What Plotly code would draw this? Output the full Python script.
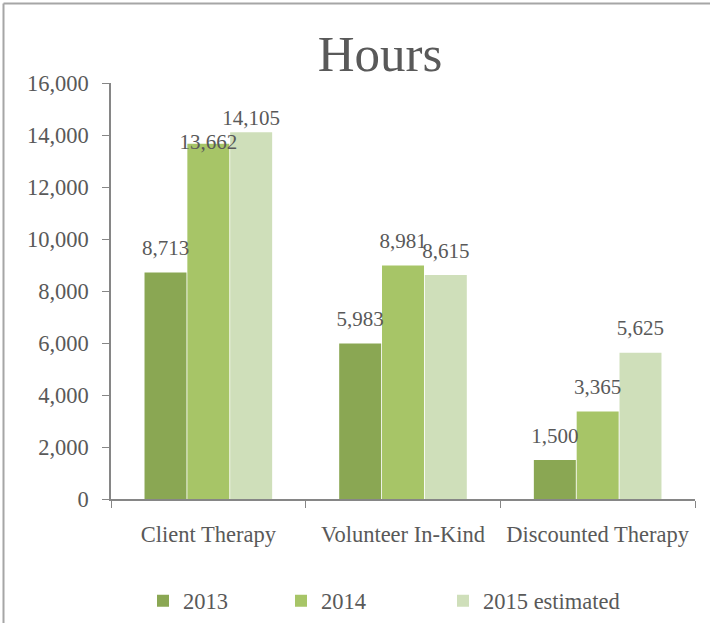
import plotly.graph_objects as go

categories = ["Client Therapy", "Volunteer In-Kind", "Discounted Therapy"]
series_names = ["2013", "2014", "2015 estimated"]
values_2013 = [8713, 5983, 1500]
values_2014 = [13662, 8981, 3365]
values_2015 = [14105, 8615, 5625]
y_tick_vals = [0, 2000, 4000, 6000, 8000, 10000, 12000, 14000, 16000]
y_tick_text = ["0", "2,000", "4,000", "6,000", "8,000", "10,000", "12,000", "14,000", "16,000"]

# label placement style (per series, per point) to mimic the reference's collision avoidance
label_positions = [
    ["top center", "top center", "top center"],
    ["middle center", "top center", "top center"],
    ["top center", "top center", "top center"],
]
label_pads = [
    [18, 18, 18],
    [18, 18, 18],
    [1, 18, 18],
]

colors = ["#8AA753", "#A7C567", "#CFDFBA"]
W, H = 710, 623
L, R, T, B = 111, 15, 83, 124
font_family = "Liberation Serif, Times New Roman, serif"
text_color = "#595959"
axis_color = "#868686"

pw = W - L - R
ph = H - T - B
legend_x = [143, 281, 443]
legend_names = ["legend", "legend2", "legend3"]

fig = go.Figure()
all_vals = [values_2013, values_2014, values_2015]
for i, (name, vals, col) in enumerate(zip(series_names, all_vals, colors)):
    fig.add_trace(go.Bar(
        x=categories, y=vals, name=name,
        marker=dict(color=col, line=dict(width=0)),
        offsetgroup=str(i), legend=legend_names[i],
        hoverinfo="skip",
    ))
for i, (name, vals) in enumerate(zip(series_names, all_vals)):
    fig.add_trace(go.Scatter(
        x=categories, y=vals, mode="markers+text", showlegend=False,
        offsetgroup=str(i),
        marker=dict(size=label_pads[i], opacity=0),
        text=[f"{v:,}" for v in vals], textposition=label_positions[i],
        textfont=dict(family=font_family, size=21, color=text_color),
        cliponaxis=False, hoverinfo="skip",
    ))

bx = (3.5 - L) / pw
by = (H - B - 3.5) / ph

layout_legends = {}
for i, ln in enumerate(legend_names):
    layout_legends[ln] = dict(
        orientation="h", x=(legend_x[i] - L) / pw, xanchor="left",
        y=-(601 - (H - B)) / ph, yanchor="middle",
        font=dict(family=font_family, size=22.5, color=text_color),
        bgcolor="rgba(0,0,0,0)",
    )

fig.update_layout(
    width=W, height=H,
    margin=dict(l=L, r=R, t=T, b=B, autoexpand=False),
    paper_bgcolor="white", plot_bgcolor="white",
    barmode="group", bargap=0.34, bargroupgap=0.02,
    scattermode="group", scattergap=0.34,
    font=dict(family=font_family, size=21, color=text_color),
    title=dict(text="Hours", x=380 / W, xref="container", xanchor="center",
               y=1 - 53 / H, yref="container", yanchor="middle",
               font=dict(family=font_family, size=51, color=text_color)),
    showlegend=True,
    shapes=[
        dict(type="line", xref="paper", yref="paper", x0=bx, x1=bx, y0=-1, y1=by,
             line=dict(color="#A6A6A6", width=2)),
        dict(type="line", xref="paper", yref="paper", x0=bx, x1=1.2, y0=by, y1=by,
             line=dict(color="#A6A6A6", width=2)),
    ],
    **layout_legends,
)
fig.update_xaxes(showline=True, linecolor=axis_color, linewidth=1.5, automargin=False,
                 ticks="outside", tickson="boundaries", ticklen=7, tickcolor=axis_color,
                 tickfont=dict(family=font_family, size=22.5, color=text_color),
                 ticklabelstandoff=14, showgrid=False)
fig.update_yaxes(range=[0, 16000], tickvals=y_tick_vals, ticktext=y_tick_text, automargin=False,
                 showline=True, linecolor=axis_color, linewidth=1.5,
                 ticks="outside", ticklen=7, tickcolor=axis_color,
                 tickfont=dict(family=font_family, size=22.5, color=text_color),
                 ticklabelstandoff=9, showgrid=False, zeroline=False)

fig.write_html("out.html", config={"displayModeBar": False},
               post_script="document.body.style.margin='0px';")
